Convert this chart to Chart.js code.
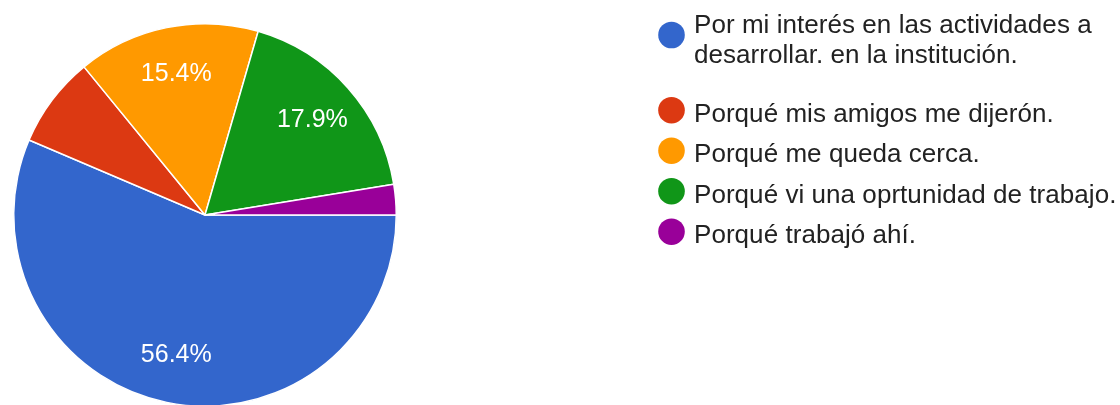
<!DOCTYPE html>
<html>
<head>
<meta charset="utf-8">
<script src="https://cdn.jsdelivr.net/npm/chart.js@4"></script>
<style>
  html,body{margin:0;padding:0;background:#fff;overflow:hidden;}
  #wrap{width:1120px;height:430px;position:relative;}
</style>
</head>
<body>
<div id="wrap"><canvas id="chartPie"></canvas></div>
<script>
const categorias = [
  "Por mi interés en las actividades a desarrollar. en la institución.",
  "Porqué mis amigos me dijerón.",
  "Porqué me queda cerca.",
  "Porqué vi una oprtunidad de trabajo.",
  "Porqué trabajó ahí."
];
const respuestas = [22, 3, 6, 7, 1];
const colores = ["#3366cc", "#dc3912", "#ff9900", "#109618", "#990099"];

const FONT = '"Liberation Sans", Arial, sans-serif';

// porcentajes dentro de las porciones
const etiquetasPie = {
  id: 'etiquetasPie',
  afterDatasetsDraw(chart){
    const ctx = chart.ctx;
    const meta = chart.getDatasetMeta(0);
    const total = respuestas.reduce((a,b)=>a+b,0);
    ctx.save();
    ctx.fillStyle = '#fff';
    ctx.font = '25px ' + FONT;
    ctx.textAlign = 'center';
    ctx.textBaseline = 'middle';
    meta.data.forEach((arc,i)=>{
      const pct = respuestas[i]/total*100;
      if(pct < 10) return;
      const mid = (arc.startAngle + arc.endAngle)/2;
      const r = arc.outerRadius*0.75;
      ctx.fillText(pct.toFixed(1)+'%', arc.x + Math.cos(mid)*r, arc.y + Math.sin(mid)*r);
    });
    ctx.restore();
  }
};

// leyenda a la derecha
const leyenda = {
  id: 'leyenda',
  afterDraw(chart){
    const ctx = chart.ctx;
    ctx.save();
    ctx.font = '26px ' + FONT;
    ctx.letterSpacing = '0.05px';
    ctx.textBaseline = 'alphabetic';
    const x0 = 671.5, tx = 694, maxW = 440, lineH = 30.5, gap = 40.5;
    let y = 32.5;
    categorias.forEach((txt,i)=>{
      // partir en lineas
      const words = txt.split(' ');
      const lines = [];
      let cur = '';
      words.forEach(w=>{
        const t = cur ? cur+' '+w : w;
        if(ctx.measureText(t).width > maxW && cur){ lines.push(cur); cur = w; }
        else cur = t;
      });
      lines.push(cur);
      const cy = lines.length > 1 ? y + 2.5 : y - 11.5;
      ctx.fillStyle = colores[i];
      ctx.beginPath();
      ctx.arc(x0, cy, 13.3, 0, Math.PI*2);
      ctx.fill();
      ctx.fillStyle = '#222';
      lines.forEach((l,k)=>ctx.fillText(l, tx, y + k*lineH));
      y += (lines.length-1)*lineH + gap + (lines.length>1 ? 18.2 : 0);
    });
    ctx.restore();
  }
};

const ctx = document.getElementById('chartPie').getContext('2d');
new Chart(ctx,{
  type:'pie',
  data:{labels:categorias,datasets:[{data:respuestas,backgroundColor:colores,borderColor:'#fff',borderWidth:1.5}]},
  options:{
    responsive:true,maintainAspectRatio:false,animation:false,
    rotation:90,
    layout:{padding:{left:13,right:723,top:23,bottom:23}},
    plugins:{legend:{display:false},tooltip:{enabled:false}}
  },
  plugins:[etiquetasPie,leyenda]
});
</script>
</body>
</html>
